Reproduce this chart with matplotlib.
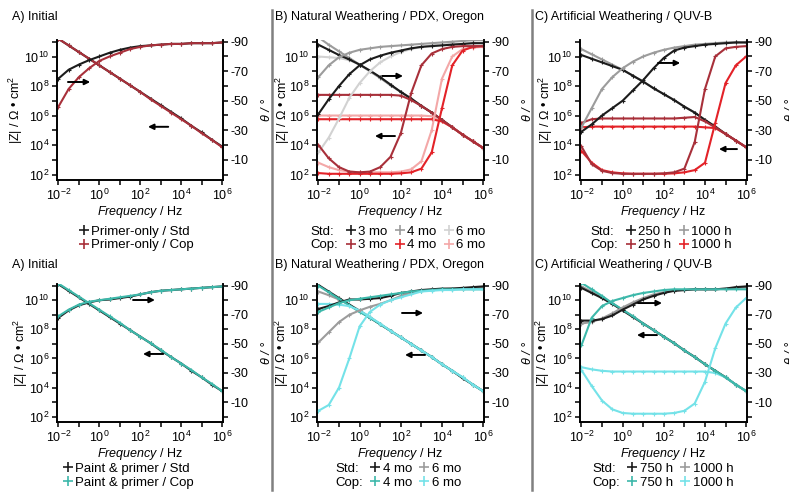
import numpy as np
import matplotlib
matplotlib.use('Agg')
import matplotlib.pyplot as plt
from matplotlib.lines import Line2D

plt.rcParams['font.family'] = ['Liberation Sans', 'DejaVu Sans']
plt.rcParams['mathtext.fontset'] = 'custom'
plt.rcParams['mathtext.rm'] = 'Liberation Sans'
plt.rcParams['mathtext.it'] = 'Liberation Sans:italic'
plt.rcParams['axes.unicode_minus'] = False

# frequency grid (half decades), Hz
freq = [1e-2, 3.16e-2, 1e-1, 3.16e-1, 1e0, 3.16e0, 1e1, 3.16e1, 1e2,
        3.16e2, 1e3, 3.16e3, 1e4, 3.16e4, 1e5, 3.16e5, 1e6]

# ---- primer-only, initial (log10 |Z| and theta in degrees)
a1_std_logz = [11.2, 10.75, 10.3, 9.85, 9.4, 8.95, 8.5, 8.05, 7.6, 7.15, 6.7, 6.25, 5.8, 5.3, 4.85, 4.35, 3.9]
a1_cop_logz = [11.2, 10.75, 10.3, 9.85, 9.4, 8.95, 8.5, 8.05, 7.6, 7.1, 6.65, 6.2, 5.75, 5.3, 4.8, 4.35, 3.85]
a1_std_theta = [-65, -71, -74.5, -77.5, -80, -82.5, -84.5, -86, -87, -87.5, -88, -88.5, -88.5, -89, -89, -89, -89.5]
a1_cop_theta = [-46, -58, -66, -72, -77, -80, -82.5, -85, -86.5, -87.5, -88, -88.5, -88.5, -89, -89, -89, -89.5]

# ---- primer-only, natural weathering
b1_std3_logz = [10.8, 10.45, 10.1, 9.8, 9.45, 9.05, 8.6, 8.1, 7.6, 7.15, 6.65, 6.2, 5.7, 5.2, 4.7, 4.25, 3.8]
b1_std4_logz = [11.3, 10.8, 10.35, 9.9, 9.45, 9.0, 8.55, 8.05, 7.6, 7.15, 6.65, 6.2, 5.7, 5.2, 4.7, 4.25, 3.8]
b1_std6_logz = [10.0, 9.95, 9.9, 9.75, 9.45, 9.0, 8.55, 8.05, 7.6, 7.15, 6.65, 6.2, 5.7, 5.2, 4.7, 4.25, 3.8]
b1_cop3_logz = [7.4, 7.4, 7.4, 7.4, 7.4, 7.4, 7.4, 7.4, 7.35, 7.05, 6.65, 6.2, 5.7, 5.2, 4.7, 4.25, 3.8]
b1_cop4_logz = [5.75, 5.75, 5.75, 5.75, 5.75, 5.75, 5.75, 5.75, 5.75, 5.75, 5.75, 5.75, 5.6, 5.2, 4.7, 4.25, 3.8]
b1_cop6_logz = [6.0, 6.0, 6.0, 6.0, 6.0, 6.0, 6.0, 6.0, 6.0, 6.0, 6.0, 5.95, 5.6, 5.2, 4.7, 4.25, 3.8]
b1_std3_theta = [-41, -51, -60, -68, -74, -78, -80.5, -82.5, -84, -85.5, -86.5, -87, -87.5, -88, -88.5, -89, -89]
b1_std4_theta = [-66, -74, -79.5, -82.5, -84.5, -85.5, -86.5, -87, -87.5, -88, -88.5, -89, -89.5, -90, -90.5, -91, -91]
b1_std6_theta = [-15, -25, -38, -52, -62, -70, -76, -80, -83, -85, -86.5, -87.5, -88, -88.5, -88.5, -89, -89]
b1_cop3_theta = [-20, -11, -5, -2, -1.5, -2, -5, -12, -28, -55, -74, -82, -85, -86.5, -87, -87, -87]
b1_cop4_theta = [-1, -0.5, -0.5, -0.5, -0.5, -0.5, -0.5, -0.5, -0.8, -1.5, -4, -15, -45, -74, -84, -86.5, -87]
b1_cop6_theta = [-8, -5, -3, -2, -1.5, -1.5, -1.5, -1.5, -2, -3.5, -9, -30, -65, -80, -85, -86, -86.5]

# ---- primer-only, artificial weathering
c1_std250_logz = [10.1, 9.85, 9.6, 9.35, 9.1, 8.7, 8.3, 7.85, 7.45, 7.05, 6.6, 6.2, 5.7, 5.25, 4.75, 4.3, 3.85]
c1_std1000_logz = [10.5, 10.15, 9.8, 9.45, 9.1, 8.7, 8.3, 7.85, 7.45, 7.05, 6.6, 6.2, 5.7, 5.25, 4.75, 4.3, 3.85]
c1_cop250_logz = [5.5, 5.75, 5.8, 5.8, 5.8, 5.8, 5.8, 5.8, 5.8, 5.8, 5.85, 5.9, 5.6, 5.2, 4.75, 4.3, 3.85]
c1_cop1000_logz = [5.2, 5.25, 5.25, 5.25, 5.25, 5.25, 5.25, 5.25, 5.25, 5.25, 5.25, 5.25, 5.2, 5.15, 4.75, 4.3, 3.85]
c1_std250_theta = [-29, -34, -40, -45, -50, -57, -64, -72, -79, -84, -86, -87, -88, -88.5, -89, -89.5, -89.5]
c1_std1000_theta = [-32, -45, -58, -66, -72, -76.5, -80, -82.5, -84.5, -86, -87, -88, -88.5, -89, -89.5, -89.5, -89.5]
c1_cop250_theta = [-19, -7, -2.5, -1, -0.5, -0.5, -0.5, -0.5, -0.8, -1.5, -4, -22, -58, -80, -85.5, -86.5, -87]
c1_cop1000_theta = [-16, -8, -3, -1.5, -0.8, -0.5, -0.5, -0.5, -0.5, -0.8, -1.5, -3, -8, -35, -62, -74, -80]

# ---- paint & primer, initial
a2_std_logz = [11.1, 10.65, 10.2, 9.75, 9.3, 8.85, 8.4, 7.95, 7.5, 7.05, 6.55, 6.1, 5.65, 5.15, 4.7, 4.2, 3.75]
a2_cop_logz = [11.15, 10.7, 10.25, 9.8, 9.35, 8.9, 8.45, 7.95, 7.5, 7.05, 6.6, 6.1, 5.65, 5.2, 4.7, 4.25, 3.75]
a2_std_theta = [-68, -73, -76.5, -78.5, -80, -80.5, -81.5, -82.5, -84, -85.5, -86.5, -87, -87.5, -88, -88.5, -89, -89.5]
a2_cop_theta = [-69, -73.5, -77, -79, -80, -81, -82, -83, -84, -85.5, -86.5, -87, -87.5, -88, -88.5, -89, -89.5]

# ---- paint & primer, natural weathering
b2_std4_logz = [11.05, 10.6, 10.15, 9.7, 9.25, 8.8, 8.35, 7.9, 7.45, 7.0, 6.55, 6.1, 5.6, 5.15, 4.65, 4.2, 3.75]
b2_std6_logz = [10.6, 10.35, 10.05, 9.7, 9.3, 8.85, 8.35, 7.9, 7.45, 7.0, 6.55, 6.1, 5.6, 5.15, 4.65, 4.2, 3.75]
b2_cop4_logz = [11.0, 10.55, 10.1, 9.65, 9.2, 8.8, 8.35, 7.9, 7.45, 7.0, 6.55, 6.1, 5.6, 5.15, 4.7, 4.2, 3.75]
b2_cop6_logz = [9.75, 9.75, 9.7, 9.6, 9.3, 8.85, 8.4, 7.9, 7.45, 7.0, 6.55, 6.1, 5.6, 5.15, 4.7, 4.2, 3.75]
b2_std4_theta = [-74, -76, -78.5, -80.5, -80.5, -81, -81.5, -83, -85, -86, -87, -87.5, -88, -88, -88.5, -89, -89.5]
b2_std6_theta = [-51, -58, -65, -70, -73, -75.5, -77.5, -80, -83, -85, -86.5, -87, -87.5, -88, -88, -88.5, -88.5]
b2_cop4_theta = [-72, -75, -78, -80, -81, -82, -83, -84, -85, -86, -86.5, -87, -87.5, -87.5, -87.5, -87.5, -87.5]
b2_cop6_theta = [-4, -8, -20, -40, -62, -72, -77, -80, -82, -84, -86, -86.5, -87, -87, -87.5, -87.5, -87.5]

# ---- paint & primer, artificial weathering
c2_std750_logz = [10.85, 10.5, 10.15, 9.75, 9.3, 8.85, 8.4, 7.95, 7.5, 7.05, 6.55, 6.1, 5.6, 5.15, 4.7, 4.2, 3.75]
c2_std1000_logz = [10.95, 10.6, 10.2, 9.8, 9.35, 8.9, 8.4, 7.95, 7.5, 7.05, 6.55, 6.1, 5.6, 5.15, 4.7, 4.2, 3.75]
c2_cop750_logz = [11.2, 10.75, 10.3, 9.8, 9.35, 8.9, 8.4, 7.95, 7.5, 7.05, 6.55, 6.1, 5.6, 5.15, 4.7, 4.2, 3.75]
c2_cop1000_logz = [5.4, 5.25, 5.15, 5.1, 5.1, 5.1, 5.1, 5.1, 5.1, 5.1, 5.1, 5.1, 5.1, 5.0, 4.7, 4.2, 3.75]
c2_std750_theta = [-66, -66, -67, -69.5, -73.5, -77, -80.5, -83, -85, -86.5, -87, -87.5, -87.5, -87.5, -88, -89, -89.5]
c2_std1000_theta = [-64, -65, -67.5, -71, -75, -78.5, -81.5, -84, -85.5, -86.5, -87, -87.5, -87.5, -87.5, -88, -88.5, -89]
c2_cop750_theta = [-49, -68, -76, -79.5, -81.5, -83.5, -85, -86, -87, -87.5, -87.5, -87.5, -87.5, -87.5, -87.5, -87.5, -87.5]
c2_cop1000_theta = [-32, -21, -11, -5, -2.5, -2, -2, -2, -2, -2.5, -4, -9, -24, -47, -64, -75, -81.5]

BLACK = '#1c1c1c'
GRAY = '#9c9c9c'
LGRAY = '#d2d2d2'
DRED = '#a8303a'
RED = '#e32228'
PINK = '#f3a8a8'
TEAL = '#3db8aa'
CYAN = '#74e2e8'

W, H = 789, 494
fig = plt.figure(figsize=(W / 100, H / 100), dpi=100)


def rect(left, top, width, height):
    return [left / W, 1 - (top + height) / H, width / W, height / H]


def draw_panel(box, title, title_xy, curves, legend_items, ncol, leg_xy, ylab_x, arrow_r, arrow_l):
    ax = fig.add_axes(box)
    ax2 = ax.twinx()
    for logz, theta, color in curves:
        ax.plot(freq, 10.0 ** np.array(logz), color=color, lw=1.5, marker='+', ms=3.5, mew=0.8)
        ax2.plot(freq, theta, color=color, lw=1.5, marker='+', ms=3.5, mew=0.8)

    ax.set_xscale('log')
    ax.set_yscale('log')
    ax.set_xlim(10 ** -2.07, 10 ** 6.04)
    ax.set_ylim(10 ** 1.63, 10 ** 11.12)
    ax2.set_ylim(3.7, -91.15)

    ax.set_xticks([1e-2, 1e0, 1e2, 1e4, 1e6])
    ax.set_xticks([1e-1, 1e1, 1e3, 1e5], minor=True)
    ax.set_yticks([1e2, 1e4, 1e6, 1e8, 1e10])
    ax.set_yticks([1e3, 1e5, 1e7, 1e9, 1e11], minor=True)
    ax.xaxis.set_minor_formatter(plt.NullFormatter())
    ax.yaxis.set_minor_formatter(plt.NullFormatter())
    ax2.set_yticks([-90, -70, -50, -30, -10])
    ax2.set_yticks([-80, -60, -40, -20, 0], minor=True)

    for a in (ax, ax2):
        a.spines['top'].set_visible(False)
        for s in a.spines.values():
            s.set_linewidth(1.2)
        a.tick_params(which='both', direction='out', length=3.5, width=1.1, labelsize=9, pad=2)

    ax.set_xlabel(r'$\mathit{Frequency}$ / Hz', fontsize=9, labelpad=1)
    ax.set_ylabel('|Z| / Ω • cm$^2$', fontsize=9)
    ax.yaxis.set_label_coords(ylab_x, 0.5)
    ax2.set_ylabel('θ / °', fontsize=9, fontstyle='italic')
    ax2.yaxis.set_label_coords(1.23, 0.5)

    fig.text(title_xy[0] / W, 1 - title_xy[1] / H, title, fontsize=9, va='center', ha='left')

    # arrows pointing to the matching axis
    ax2.annotate('', xy=(arrow_r[1], arrow_r[2]), xytext=(arrow_r[0], arrow_r[2]),
                 xycoords='axes fraction',
                 arrowprops=dict(arrowstyle='-|>', color='k', lw=1.4, mutation_scale=8, shrinkA=0, shrinkB=0))
    ax2.annotate('', xy=(arrow_l[1], arrow_l[2]), xytext=(arrow_l[0], arrow_l[2]),
                 xycoords='axes fraction',
                 arrowprops=dict(arrowstyle='-|>', color='k', lw=1.4, mutation_scale=8, shrinkA=0, shrinkB=0))

    handles = []
    labels = []
    for label, color in legend_items:
        if color is None:
            handles.append(Line2D([], [], ls='none'))
        else:
            handles.append(Line2D([], [], ls='none', marker='+', ms=7, mew=1.2, color=color))
        labels.append(label)
    ax2.legend(handles, labels, ncol=ncol, loc='upper center', bbox_to_anchor=leg_xy,
               frameon=False, fontsize=9.5, handlelength=0.7, handletextpad=0.2,
               columnspacing=0.6, labelspacing=0.1, borderpad=0, borderaxespad=0)
    return ax


# row 1: primer-only
draw_panel(rect(57, 40, 166, 140), 'A) Initial', (12, 17),
           [(a1_std_logz, a1_std_theta, BLACK), (a1_cop_logz, a1_cop_theta, DRED)],
           [('Primer-only / Std', BLACK), ('Primer-only / Cop', DRED)], 1,
           (0.48, -0.325), -0.19, (0.066, 0.20, 0.70), (0.67, 0.548, 0.38))

draw_panel(rect(317, 40, 167, 140), 'B) Natural Weathering / PDX, Oregon', (275, 17),
           [(b1_std6_logz, b1_std6_theta, LGRAY), (b1_std4_logz, b1_std4_theta, GRAY),
            (b1_std3_logz, b1_std3_theta, BLACK), (b1_cop6_logz, b1_cop6_theta, PINK),
            (b1_cop4_logz, b1_cop4_theta, RED), (b1_cop3_logz, b1_cop3_theta, DRED)],
           [('Std:', None), ('Cop:', None), ('3 mo', BLACK), ('3 mo', DRED),
            ('4 mo', GRAY), ('4 mo', RED), ('6 mo', LGRAY), ('6 mo', PINK)], 4,
           (0.45, -0.325), -0.15, (0.39, 0.515, 0.743), (0.467, 0.347, 0.314))

draw_panel(rect(580, 40, 167, 140), 'C) Artificial Weathering / QUV-B', (535, 17),
           [(c1_std1000_logz, c1_std1000_theta, GRAY), (c1_std250_logz, c1_std250_theta, BLACK),
            (c1_cop1000_logz, c1_cop1000_theta, RED), (c1_cop250_logz, c1_cop250_theta, DRED)],
           [('Std:', None), ('Cop:', None), ('250 h', BLACK), ('250 h', DRED),
            ('1000 h', GRAY), ('1000 h', RED)], 3,
           (0.45, -0.325), -0.15, (0.467, 0.60, 0.836), (0.94, 0.832, 0.221))

# row 2: paint & primer
draw_panel(rect(57, 284, 166, 138), 'A) Initial', (12, 265),
           [(a2_std_logz, a2_std_theta, BLACK), (a2_cop_logz, a2_cop_theta, TEAL)],
           [('Paint & primer / Std', BLACK), ('Paint & primer / Cop', TEAL)], 1,
           (0.43, -0.295), -0.16, (0.458, 0.59, 0.884), (0.64, 0.518, 0.493))

draw_panel(rect(317, 284, 167, 138), 'B) Natural Weathering / PDX, Oregon', (275, 265),
           [(b2_std6_logz, b2_std6_theta, GRAY), (b2_std4_logz, b2_std4_theta, BLACK),
            (b2_cop4_logz, b2_cop4_theta, TEAL), (b2_cop6_logz, b2_cop6_theta, CYAN)],
           [('Std:', None), ('Cop:', None), ('4 mo', BLACK), ('4 mo', TEAL),
            ('6 mo', GRAY), ('6 mo', CYAN)], 3,
           (0.45, -0.295), -0.155, (0.509, 0.635, 0.79), (0.647, 0.527, 0.486))

draw_panel(rect(580, 284, 167, 138), 'C) Artificial Weathering / QUV-B', (535, 265),
           [(c2_std1000_logz, c2_std1000_theta, GRAY), (c2_std750_logz, c2_std750_theta, BLACK),
            (c2_cop1000_logz, c2_cop1000_theta, CYAN), (c2_cop750_logz, c2_cop750_theta, TEAL)],
           [('Std:', None), ('Cop:', None), ('750 h', BLACK), ('750 h', TEAL),
            ('1000 h', GRAY), ('1000 h', CYAN)], 3,
           (0.46, -0.295), -0.17, (0.347, 0.491, 0.862), (0.461, 0.341, 0.63))

# vertical separators between panels
for xpx in (272, 532):
    fig.add_artist(Line2D([xpx / W, xpx / W], [1 - 10 / H, 1 - 490 / H],
                          transform=fig.transFigure, color='#808080', lw=1.8))

fig.savefig('out.png', dpi=100)
